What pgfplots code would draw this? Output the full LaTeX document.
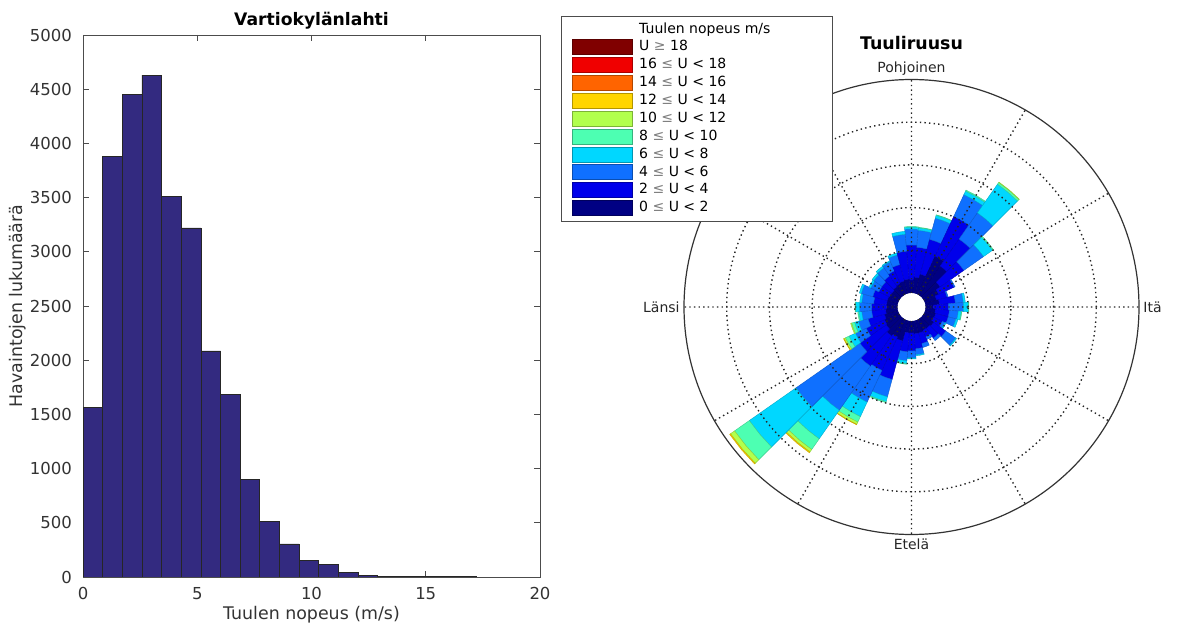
\documentclass[border=0pt]{standalone}
\usepackage{fontspec}
\setmainfont{DejaVu Sans}
\usepackage{pgfplots}
\pgfplotsset{compat=1.18}
\usepackage{pgfplotstable}
\usepgfplotslibrary{polar}

\definecolor{histbar}{RGB}{51,42,128}
\definecolor{cls1}{RGB}{0,0,131}
\definecolor{cls2}{RGB}{0,0,235}
\definecolor{cls3}{RGB}{15,112,255}
\definecolor{cls4}{RGB}{0,215,255}
\definecolor{cls5}{RGB}{77,255,178}
\definecolor{cls6}{RGB}{178,255,77}
\definecolor{cls7}{RGB}{255,213,0}
\definecolor{cls8}{RGB}{255,100,0}
\definecolor{cls9}{RGB}{240,0,0}
\definecolor{cls10}{RGB}{128,0,0}

% wind rose: bearing (deg) and cumulative radii of the speed classes
\pgfplotstableread{
dir r0 r1 r2 r3 r4 r5 r6 r7
0   14 27 62 78 80 80.5 80.5 80.5
10  14 30 60 77 79.5 80 80 80
20  14 34 70 92 95 95.5 95.5 95.5
30  14 56 100 124 128 129 129 129
40  14 50 83 115 150 152 152.5 152.5
50  14 35 64 88 99 100 100 100
60  14 30 47 48 48 48 48 48
70  14 26 37 38 38 38 38 38
80  14 28 44 52 54 54 54 54
90  14 22 37 52 57 57.5 57.5 57.5
100 14 24 38 47 50 50.5 50.5 50.5
110 14 25 38 46 48 48 48 48
120 14 24 34 37 38 38 38 38
130 14 27 42 54 55 55 55 55
140 14 26 38 41 41 41 41 41
150 14 26 33 36 36 36 36 36
160 14 27 38 42 42 42 42 42
170 14 27 42 48 49 49 49 49
180 14 26 44 51 52 52 52 52
190 14 26 45 54 57 57.5 57.5 57.5
200 14 35 75 93 98 99 99 99
210 14 33 70 105 121 127 129.5 130
220 14 35 72 126 161 174 177 178
230 14 31 63 141 198 216 221 222
240 14 30 50 62 69 73 74.5 75
250 14 28 45 55 59 62 63 63
260 14 26 40 50 53 54 54 54
270 14 25 40 52 56 56.5 56.5 56.5
280 14 25 38 50 52 52 52 52
290 14 25 40 52 54 54 54 54
300 14 24 36 45 47 47 47 47
310 14 24 36 46 48 48 48 48
320 14 25 38 48 50 50 50 50
330 14 26 40 50 51 51 51 51
340 14 27 44 54 56 56 56 56
350 14 28 56 73 76 76 76 76
}\rosedata

\newcommand\rosesector[4]{%
  \pgfplotstablegetelem{#1}{dir}\of\rosedata\let\rdir\pgfplotsretval
  \pgfplotstablegetelem{#1}{#3}\of\rosedata\let\rin\pgfplotsretval
  \pgfplotstablegetelem{#1}{#4}\of\rosedata\let\rout\pgfplotsretval
  \pgfmathsetmacro\aM{mod(450-\rdir,360)}%
  \pgfmathsetmacro\aA{\aM-5}%
  \pgfmathsetmacro\aB{\aM+5}%
  \pgfmathtruncatemacro\rok{100*(\rout-\rin)}%
  \ifnum\rok>4
    \edef\rtemp{\noexpand\addplot[forget plot,fill=cls#2,draw=cls#2!80!black,line width=0.2pt] coordinates {(\aA,\rin) (\aA,\rout) (\aM,\rout) (\aB,\rout) (\aB,\rin) (\aM,\rin)} -- cycle;}%
  \else
    \def\rtemp{}%
  \fi
  \rtemp
}

\pgfplotsset{rosepatch/.style={legend image code/.code={\draw[##1] (0pt,-3.75pt) rectangle (30pt,3.75pt);}}}

\begin{document}
\begin{tikzpicture}
\useasboundingbox (0,0) rectangle (588.5pt,-312.5pt);
\begin{axis}[
  at={(41.5pt,-17.5pt)}, anchor=north west,
  scale only axis, width=228.5pt, height=271pt,
  xmin=0, xmax=20, ymin=0, ymax=5000,
  xtick={0,5,10,15,20}, ytick={0,500,...,5000},
  tick align=inside, major tick length=3pt,
  /pgf/number format/assume math mode=true,
  /pgf/number format/1000 sep={},
  tick label style={font=\fontsize{8.25}{9}\selectfont, text=black!80},
  yticklabel style={xshift=-2pt},
  xticklabel style={yshift=-1.5pt},
  axis line style={black!70}, every tick/.style={black!70},
  every axis title shift=0pt,
  title={Vartiokylänlahti},
  title style={font=\bfseries\fontsize{8.6}{10}\selectfont, at={(axis description cs:0.5,1.0166)}, anchor=base},
  xlabel={Tuulen nopeus (m/s)},
  xlabel style={font=\fontsize{8.7}{10}\selectfont, text=black!80, at={(axis description cs:0.5,-0.0793)}, anchor=base},
  ylabel={Havaintojen lukumäärä},
  ylabel style={font=\fontsize{8.7}{10}\selectfont, text=black!80, at={(axis description cs:-0.1422,0.5)}, anchor=center},
]
\addplot[ybar interval, fill=histbar, draw=black!85, line width=0.4pt] coordinates {
(0,1560) (0.86,3880) (1.72,4450) (2.58,4630) (3.44,3510) (4.30,3220) (5.16,2085)
(6.02,1685) (6.88,900) (7.74,515) (8.60,305) (9.46,150) (10.32,115) (11.18,40)
(12.04,15) (12.90,8) (13.76,5) (14.62,4) (15.48,3) (16.34,3) (17.20,0)};
\end{axis}

\begin{polaraxis}[
  at={(455.75pt,-153.5pt)}, anchor=center,
  scale only axis, width=227.5pt, height=227.5pt,
  xmin=0, xmax=360, ymin=0, ymax=227.5,
  xtick={0,30,...,330},
  xticklabels={Itä,,,Pohjoinen,,,Länsi,,,Etelä,,},
  xticklabel style={font=\fontsize{7}{8}\selectfont, text=black!85, inner sep=2pt},
  ytick={56.7,99.4,142.1,184.8},
  yticklabels={},
  grid=major,
  major grid style={black!85, line width=0.7pt, dash pattern=on 0.7pt off 1.6pt},
  axis on top,
  major tick length=0pt,
  axis line style={black!80, line width=0.6pt},
  y axis line style={draw=none},
  every axis title shift=0pt,
  title={Tuuliruusu},
  title style={font=\bfseries\fontsize{8.7}{10}\selectfont, at={(axis cs:90,257)}, anchor=base},
  legend cell align=left,
  legend style={at={(axis description cs:-0.2703,1.1396)}, anchor=north west,
    draw=black!70, fill=white, font=\fontsize{7}{8}\selectfont,
    inner xsep=5.5pt, inner ysep=2.5pt, row sep=1.05pt,
    nodes={inner xsep=0pt, inner ysep=0.5pt},
    /tikz/every odd column/.append style={column sep=3pt}},
]
\addlegendimage{empty legend}\addlegendentry{\makebox[91pt][l]{Tuulen nopeus m/s}}
\addlegendimage{rosepatch, fill=cls10, draw=cls10!70!black}\addlegendentry{U {\color{black!50}≥} 18}
\addlegendimage{rosepatch, fill=cls9, draw=cls9!70!black}\addlegendentry{16 {\color{black!50}≤} U < 18}
\addlegendimage{rosepatch, fill=cls8, draw=cls8!70!black}\addlegendentry{14 {\color{black!50}≤} U < 16}
\addlegendimage{rosepatch, fill=cls7, draw=cls7!70!black}\addlegendentry{12 {\color{black!50}≤} U < 14}
\addlegendimage{rosepatch, fill=cls6, draw=cls6!70!black}\addlegendentry{10 {\color{black!50}≤} U < 12}
\addlegendimage{rosepatch, fill=cls5, draw=cls5!70!black}\addlegendentry{8 {\color{black!50}≤} U < 10}
\addlegendimage{rosepatch, fill=cls4, draw=cls4!70!black}\addlegendentry{6 {\color{black!50}≤} U < 8}
\addlegendimage{rosepatch, fill=cls3, draw=cls3!70!black}\addlegendentry{4 {\color{black!50}≤} U < 6}
\addlegendimage{rosepatch, fill=cls2, draw=cls2!70!black}\addlegendentry{2 {\color{black!50}≤} U < 4}
\addlegendimage{rosepatch, fill=cls1, draw=cls1!70!black}\addlegendentry{0 {\color{black!50}≤} U < 2}
\pgfplotsforeachungrouped \i in {0,...,35}{%
  \rosesector{\i}{1}{r0}{r1}%
  \rosesector{\i}{2}{r1}{r2}%
  \rosesector{\i}{3}{r2}{r3}%
  \rosesector{\i}{4}{r3}{r4}%
  \rosesector{\i}{5}{r4}{r5}%
  \rosesector{\i}{6}{r5}{r6}%
  \rosesector{\i}{7}{r6}{r7}%
}
\coordinate (rosecenter) at (axis cs:0,0);
\end{polaraxis}
\fill[white] (rosecenter) circle (6.9pt);
\end{tikzpicture}
\end{document}
